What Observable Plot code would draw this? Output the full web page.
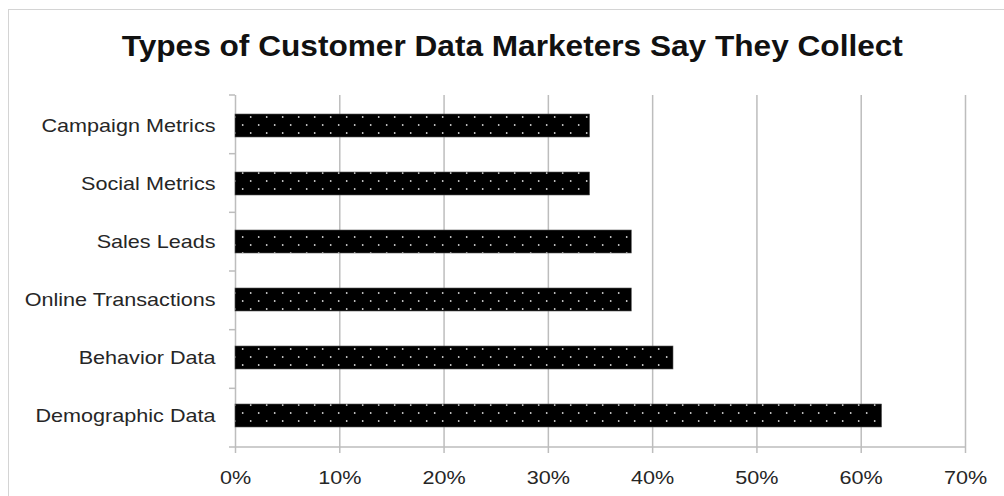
<!DOCTYPE html>
<html><head><meta charset="utf-8">
<script src="https://cdn.jsdelivr.net/npm/d3@7"></script>
<script src="https://cdn.jsdelivr.net/npm/@observablehq/plot@0.6"></script>
<style>
html,body{margin:0;padding:0;background:#fff;overflow:hidden;width:1004px;height:496px}
#frame{position:absolute;left:8px;top:9px;width:1100px;height:600px;border:1px solid #d4d4d4;pointer-events:none}
#title{height:80px;box-sizing:border-box;padding-top:30px;padding-left:20px;line-height:36px;text-align:center;white-space:nowrap}
#title span{display:inline-block;font:bold 29px "Liberation Sans",Arial,sans-serif;color:#111;transform:scaleX(1.09);transform-origin:center}
#chart{position:relative}
</style></head><body>
<div id="frame"></div>
<div id="title"><span>Types of Customer Data Marketers Say They Collect</span></div>
<div id="chart"></div>
<script>
const categories = ["Campaign Metrics", "Social Metrics", "Sales Leads", "Online Transactions", "Behavior Data", "Demographic Data"];
const values = [34, 34, 38, 38, 42, 62];
const xTicks = [0, 10, 20, 30, 40, 50, 60, 70];
const data = categories.map((c, i) => ({category: c, value: values[i]}));

const decor = (index, scales, vals, dims) => {
  const {width, height, marginTop, marginBottom, marginLeft, marginRight} = dims;
  const g = d3.create("svg:g").attr("stroke", "#bdbdbd").attr("stroke-width", 1.5);
  const n = categories.length;
  const step = (height - marginTop - marginBottom) / n;
  for (let i = 0; i < n; i++) {
    const y = marginTop + i * step;
    g.append("line").attr("x1", marginLeft - 6).attr("x2", marginLeft).attr("y1", y).attr("y2", y);
  }
  const yb = height - marginBottom;
  g.append("line").attr("x1", marginLeft - 6).attr("x2", width - marginRight).attr("y1", yb).attr("y2", yb);
  return g.node();
};

const svg = Plot.plot({
  width: 1004, height: 416,
  marginTop: 15, marginBottom: 49, marginLeft: 235, marginRight: 39,
  style: 'font-family:"Liberation Sans",Arial,sans-serif;font-size:18px;color:#262626;background:transparent;overflow:visible',
  x: {domain: [0, 70]},
  y: {domain: categories, paddingInner: 0.6, paddingOuter: 0.3},
  marks: [
    Plot.gridX(xTicks, {stroke: "#bdbdbd", strokeOpacity: 1, strokeWidth: 1.5}),
    Plot.barX(data, {x: "value", y: "category", fill: "url(#dots)", stroke: "#555", strokeWidth: 0.6}),
    Plot.axisX(xTicks, {tickFormat: d => d + "%", tickSize: 6, tickPadding: 18, stroke: "#bdbdbd", strokeWidth: 1.5, fill: "#262626", label: null}),
    Plot.axisY({tickSize: 0, tickPadding: 20, label: null, fill: "#262626"}),
    decor
  ]
});

// widen the axis labels horizontally around their anchor point
const SX = 1.2;
d3.select(svg).selectAll("g[aria-label$='tick label'] text").each(function() {
  const t = this;
  const xa = t.getAttribute("x");
  if (xa !== null && /^-?[\d.]+$/.test(xa.trim())) t.setAttribute("x", +xa / SX);
  const tr = t.getAttribute("transform") || "";
  t.setAttribute("transform", `${tr} scale(${SX},1)`.trim());
});

const defs = d3.select(svg).insert("defs", ":first-child");
const pat = defs.append("pattern").attr("id", "dots").attr("patternUnits", "userSpaceOnUse")
  .attr("width", 16).attr("height", 16);
pat.append("rect").attr("width", 16).attr("height", 16).attr("fill", "#000");
pat.append("circle").attr("cx", 10.7).attr("cy", 5).attr("r", 0.9).attr("fill", "#d0d0d0");
pat.append("circle").attr("cx", 2.7).attr("cy", 13).attr("r", 0.9).attr("fill", "#d0d0d0");

document.getElementById("chart").appendChild(svg);
</script>
</body></html>
